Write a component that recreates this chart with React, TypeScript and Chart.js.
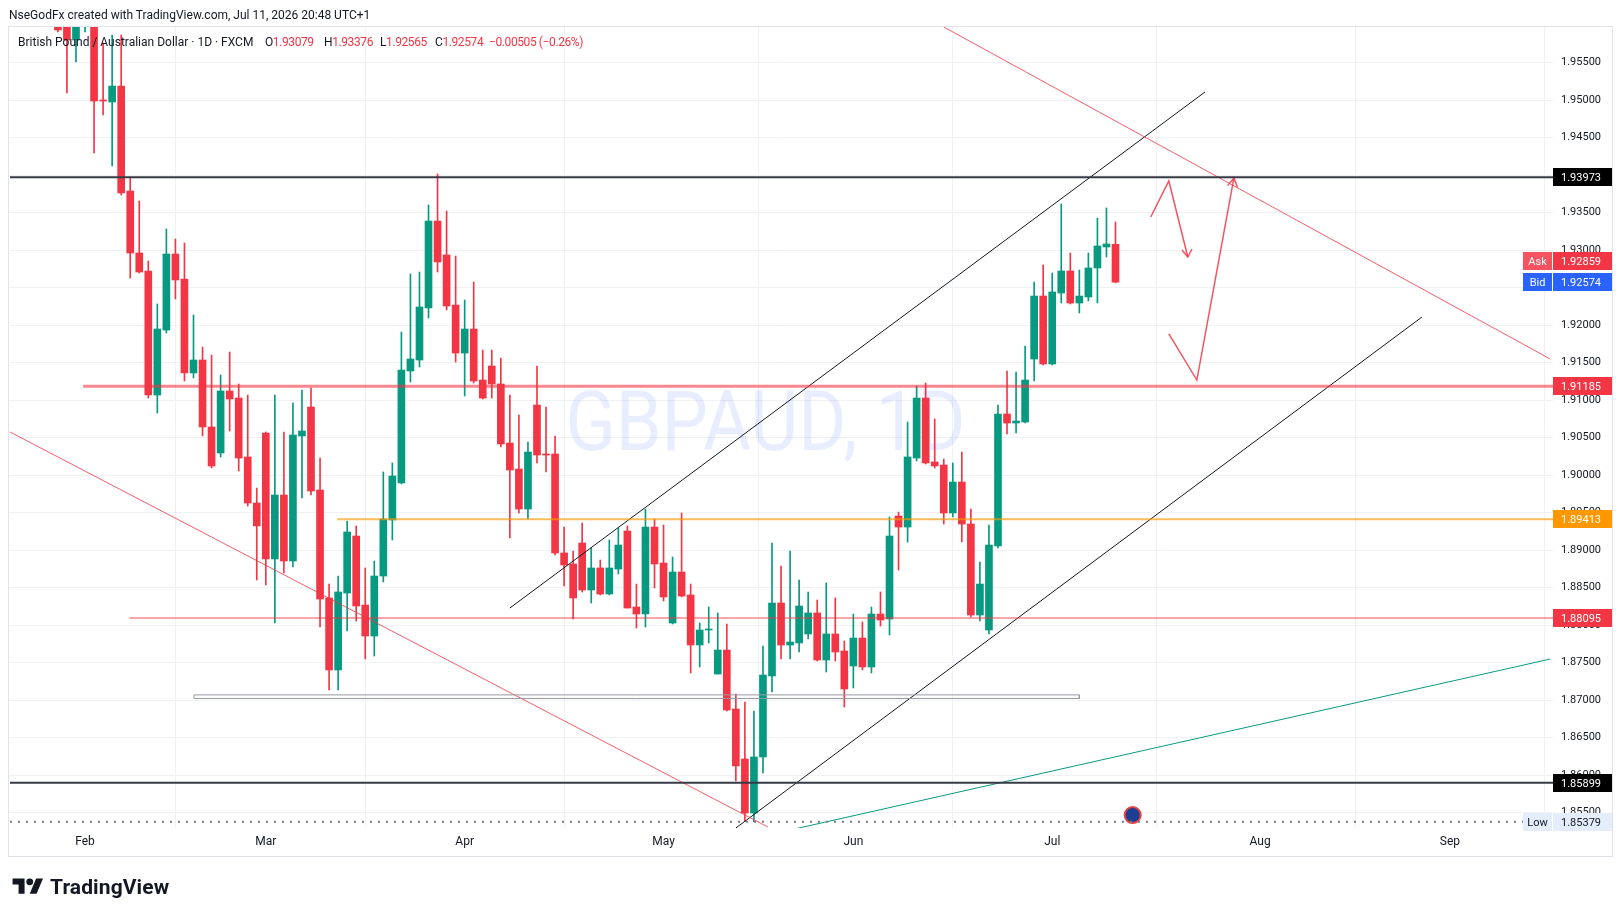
import { useEffect, useRef } from 'react';
import Chart from 'chart.js/auto';

// bar index 0 = Mon 2 Feb 2026, one bar per trading day (FXCM daily)
const firstBar = -3;

const opens = [
  1.95976, 1.9615, 1.95803, 1.9612, 1.9628, 1.95003, 1.94976, 1.95189, 1.93789, 1.92963,
  1.92723, 1.91069, 1.91936, 1.92949, 1.92616, 1.91363, 1.91536, 1.90643, 1.90296, 1.91123,
  1.91029, 1.90243, 1.89629, 1.90563, 1.88883, 1.89736, 1.88856, 1.90523, 1.90909, 1.89803,
  1.88363, 1.87403, 1.88429, 1.89189, 1.88269, 1.87856, 1.88656, 1.89403, 1.89896, 1.91389,
  1.91536, 1.92229, 1.93389, 1.92936, 1.92269, 1.91629, 1.91949, 1.91269, 1.91456, 1.91216,
  1.90429, 1.90083, 1.89549, 1.90936, 1.90283, 1.90283, 1.88963, 1.88816, 1.89096, 1.88469,
  1.88763, 1.88416, 1.88749, 1.89256, 1.88243, 1.88149, 1.89309, 1.88829, 1.88029, 1.88709,
  1.88403, 1.87736, 1.87936, 1.87349, 1.87669, 1.86883, 1.86216, 1.85496, 1.86243, 1.87323,
  1.88296, 1.87736, 1.87763, 1.87883, 1.88163, 1.87536, 1.87883, 1.87656, 1.87456, 1.87829,
  1.87443, 1.88149, 1.88083, 1.89456, 1.89309, 1.90229, 1.91029, 1.90176, 1.90136, 1.89496,
  1.89909, 1.89349, 1.88136, 1.87936, 1.89056, 1.90816, 1.90696, 1.90709, 1.91549, 1.92389,
  1.91483, 1.92429, 1.92723, 1.92296, 1.92376, 1.92763, 1.93043, 1.93079,
];
const highs = [
  1.96003, 1.9625, 1.9625, 1.964, 1.964, 1.95763, 1.95869, 1.95869, 1.93963, 1.93656,
  1.92856, 1.92283, 1.93283, 1.93149, 1.93096, 1.92136, 1.91709, 1.91603, 1.91336, 1.91643,
  1.91216, 1.91069, 1.89829, 1.90576, 1.91069, 1.90576, 1.90963, 1.91136, 1.91163, 1.90229,
  1.88549, 1.88656, 1.89389, 1.89323, 1.88763, 1.88856, 1.90043, 1.90163, 1.91909, 1.92683,
  1.92709, 1.93603, 1.94016, 1.93523, 1.92923, 1.92336, 1.92576, 1.91669, 1.91669, 1.91563,
  1.91069, 1.90803, 1.90443, 1.91456, 1.90909, 1.90523, 1.89309, 1.88989, 1.89363, 1.89029,
  1.88869, 1.89136, 1.89296, 1.89323, 1.88549, 1.89549, 1.89416, 1.89336, 1.88909, 1.89496,
  1.88549, 1.88029, 1.88243, 1.88163, 1.88016, 1.87083, 1.86976, 1.86856, 1.87723, 1.89096,
  1.88789, 1.88989, 1.88603, 1.88443, 1.88336, 1.88563, 1.88363, 1.87789, 1.88149, 1.88043,
  1.88243, 1.88443, 1.89443, 1.89509, 1.90709, 1.91189, 1.91229, 1.90749, 1.90216, 1.90163,
  1.90309, 1.89549, 1.88843, 1.89336, 1.90936, 1.91389, 1.91376, 1.91723, 1.92576, 1.92803,
  1.92696, 1.93616, 1.92963, 1.92736, 1.92963, 1.93429, 1.93563, 1.93376,
];
const lows = [
  1.95909, 1.95096, 1.95509, 1.95909, 1.94296, 1.94803, 1.94123, 1.93736, 1.92629, 1.92696,
  1.91029, 1.90829, 1.91896, 1.92349, 1.91256, 1.91296, 1.90523, 1.90096, 1.90243, 1.90589,
  1.90056, 1.89589, 1.88603, 1.88536, 1.88029, 1.88696, 1.88776, 1.89696, 1.89736, 1.87976,
  1.87136, 1.87136, 1.87923, 1.88056, 1.87549, 1.87589, 1.88576, 1.89136, 1.89883, 1.91243,
  1.91443, 1.92096, 1.92709, 1.92203, 1.91509, 1.91056, 1.91229, 1.91016, 1.91029, 1.90376,
  1.89163, 1.89496, 1.89416, 1.90163, 1.90043, 1.88936, 1.88523, 1.88083, 1.88443, 1.88296,
  1.88403, 1.88403, 1.88683, 1.88229, 1.87963, 1.87976, 1.88496, 1.88323, 1.88016, 1.88376,
  1.87363, 1.87443, 1.87763, 1.87349, 1.86856, 1.85923, 1.85379, 1.8538, 1.86029, 1.87109,
  1.87549, 1.87549, 1.87643, 1.87816, 1.87523, 1.87376, 1.87523, 1.86909, 1.87163, 1.87403,
  1.87363, 1.87989, 1.87869, 1.88736, 1.89109, 1.90189, 1.90149, 1.90096, 1.89349, 1.89443,
  1.89109, 1.88109, 1.88056, 1.87883, 1.89029, 1.90549, 1.90563, 1.90696, 1.91256, 1.91469,
  1.91469, 1.92296, 1.92283, 1.92163, 1.92323, 1.92296, 1.92909, 1.92565,
];
const closes = [
  1.95936, 1.95803, 1.9612, 1.963, 1.94989, 1.94989, 1.95189, 1.93763, 1.92963, 1.92709,
  1.91069, 1.91949, 1.92949, 1.92603, 1.91363, 1.91536, 1.90643, 1.90123, 1.91123, 1.91016,
  1.90229, 1.89629, 1.89323, 1.88883, 1.89736, 1.88856, 1.90536, 1.90589, 1.89789, 1.88349,
  1.87403, 1.88443, 1.89243, 1.88256, 1.87856, 1.88656, 1.89416, 1.89989, 1.91403, 1.91549,
  1.92243, 1.93389, 1.92843, 1.92256, 1.91629, 1.91949, 1.91256, 1.91029, 1.91216, 1.90416,
  1.90069, 1.89549, 1.90309, 1.90269, 1.90269, 1.88963, 1.88803, 1.88363, 1.88469, 1.88763,
  1.88416, 1.88763, 1.89069, 1.88229, 1.88149, 1.89309, 1.88816, 1.88376, 1.88709, 1.88389,
  1.87736, 1.87936, 1.87949, 1.87669, 1.86869, 1.86123, 1.85496, 1.86243, 1.87336, 1.88296,
  1.87736, 1.87776, 1.88256, 1.88163, 1.87536, 1.87883, 1.87643, 1.87149, 1.87829, 1.87443,
  1.88149, 1.88069, 1.89189, 1.89309, 1.90243, 1.91029, 1.90163, 1.90123, 1.89496, 1.89909,
  1.89349, 1.88136, 1.88549, 1.89069, 1.90816, 1.90696, 1.90723, 1.91269, 1.92389, 1.91483,
  1.92443, 1.92723, 1.92296, 1.92389, 1.92763, 1.93056, 1.93083, 1.92574,
];

const monthTicks = [0, 20, 42, 64, 85, 107, 130, 151];
const monthNames = ['Feb', 'Mar', 'Apr', 'May', 'Jun', 'Jul', 'Aug', 'Sep'];
const priceTicks = [
  1.855, 1.86, 1.865, 1.87, 1.875, 1.88, 1.885, 1.89, 1.895, 1.9, 1.905,
  1.91, 1.915, 1.92, 1.925, 1.93, 1.935, 1.94, 1.945, 1.95, 1.955,
];
const viewBars = [-8.3, 162.4];
const viewPrices = [1.85296, 1.95976];

// horizontal levels: price and the bar where each one starts
const levelPrices = [1.93973, 1.91185, 1.89413, 1.88095, 1.85899];
const levelStart = [-8.3, -0.2, 27.9, 4.9, -8.3];
const askPrice = 1.92859;
const bidPrice = 1.92574;
const lowPrice = 1.85379;

// drawings as [bar, price] points
const lowerRedLine = [[-8.3, 1.90576], [75.55, 1.85309]];
const upperRedLine = [[95.0, 1.95976], [162.1, 1.91549]];
const channelTop = [[47.0, 1.88229], [123.9, 1.95109]];
const channelBottom = [[72.0, 1.85296], [147.9, 1.92109]];
const tealLine = [[78.5, 1.85283], [162.1, 1.87549]];
const arrowDown = [[117.9, 1.93443], [119.9, 1.93923], [122.0, 1.92909]];
const arrowDownHead = [[121.35, 1.93003], [122.0, 1.92909], [122.46, 1.93016]];
const arrowUp = [[119.9, 1.91883], [123.0, 1.91269], [127.1, 1.93963]];
const arrowUpHead = [[126.4, 1.93861], [127.1, 1.93963], [127.5, 1.93837]];
const boxBars = [12.06, 110.0];
const boxPrices = [1.87023, 1.87071];
const eventMarker = [115.9, 1.85469];

const UP = '#089981';
const DOWN = '#f23645';
const FONT = 'Roboto, "Liberation Sans", sans-serif';

const levelStyles = [
  { color: '#363a45', width: 2, tag: '#000000' },
  { color: 'rgba(242,54,69,0.6)', width: 3, tag: '#f23645' },
  { color: 'rgba(255,152,0,0.65)', width: 2, tag: '#ff9800' },
  { color: 'rgba(242,54,69,0.6)', width: 1.5, tag: '#f23645' },
  { color: '#363a45', width: 2, tag: '#000000' },
];

const watermark = {
  id: 'watermark',
  beforeDatasetsDraw(chart: any) {
    const { ctx, chartArea } = chart;
    ctx.save();
    ctx.font = `84px ${FONT}`;
    ctx.fillStyle = 'rgba(41,98,255,0.11)';
    ctx.textAlign = 'center';
    ctx.textBaseline = 'middle';
    const text = 'GBPAUD, 1D';
    const w = ctx.measureText(text).width;
    const cx = (chartArea.left + chartArea.right) / 2 - 16;
    const cy = (chartArea.top + chartArea.bottom) / 2 + 1;
    ctx.translate(cx, cy);
    ctx.scale(400 / w, 1);
    ctx.fillText(text, 0, 0);
    ctx.restore();
  },
};

const axisTags = {
  id: 'axisTags',
  afterDraw(chart: any) {
    const { ctx, chartArea, scales } = chart;
    const ys = scales.y;
    const right = chartArea.right;
    const tag = (price: number, bg: string, fg: string, label?: string, labelBg?: string) => {
      const py = Math.round(ys.getPixelForValue(price));
      ctx.fillStyle = bg;
      ctx.fillRect(right, py - 9, 59, 18);
      ctx.fillStyle = fg;
      ctx.textAlign = 'left';
      ctx.fillText(price.toFixed(5), right + 8, py + 1);
      if (label) {
        ctx.fillStyle = labelBg;
        ctx.fillRect(right - 30, py - 9, 29, 18);
        ctx.fillStyle = fg;
        ctx.textAlign = 'center';
        ctx.fillText(label, right - 15.5, py + 1);
      }
    };
    ctx.save();
    ctx.font = `11px ${FONT}`;
    ctx.textBaseline = 'middle';
    levelPrices.forEach((p, i) => tag(p, levelStyles[i].tag, '#ffffff'));
    tag(askPrice, '#f23645', '#ffffff', 'Ask', '#f7525f');
    tag(bidPrice, '#2962ff', '#ffffff', 'Bid', '#2962ff');
    tag(lowPrice, '#e3edfc', '#131722', 'Low', '#e3edfc');
    ctx.restore();
  },
};

const seg = (pts: number[][], color: string, width: number, dash: number[] = []) => ({
  type: 'line' as const,
  data: pts.map(([x, y]) => ({ x, y })),
  borderColor: color,
  borderWidth: width,
  borderDash: dash,
  pointRadius: 0,
  fill: false,
  tension: 0,
  order: 0,
});

export default function App() {
  const canvasRef = useRef<HTMLCanvasElement | null>(null);

  useEffect(() => {
    document.body.style.margin = '0';
    if (!canvasRef.current) return;

    const colors = opens.map((o, i) => (closes[i] >= o ? UP : DOWN));
    const wicks = opens.map((_, i) => ({ x: firstBar + i, y: [lows[i], highs[i]] }));
    const bodies = opens.map((o, i) => ({ x: firstBar + i, y: [o, closes[i]] }));

    const levelSets = levelPrices.map((p, i) =>
      seg([[levelStart[i], p], [viewBars[1], p]], levelStyles[i].color, levelStyles[i].width)
    );
    const boxOutline = [
      [boxBars[0], boxPrices[1]], [boxBars[1], boxPrices[1]], [boxBars[1], boxPrices[0]],
      [boxBars[0], boxPrices[0]], [boxBars[0], boxPrices[1]],
    ];

    const chart = new Chart(canvasRef.current, {
      type: 'bar',
      data: {
        datasets: [
          {
            data: wicks as any,
            backgroundColor: colors,
            barThickness: 1,
            grouped: false,
            order: 2,
          } as any,
          {
            data: bodies as any,
            backgroundColor: colors,
            barThickness: 7,
            minBarLength: 1,
            grouped: false,
            order: 1,
          } as any,
          ...levelSets,
          seg([[viewBars[0], lowPrice], [viewBars[1], lowPrice]], '#787b86', 2, [2, 6]),
          seg(boxOutline, '#9598a1', 1),
          seg(lowerRedLine, 'rgba(242,54,69,0.8)', 1),
          seg(upperRedLine, 'rgba(242,54,69,0.8)', 1),
          seg(channelTop, '#131722', 1),
          seg(channelBottom, '#131722', 1),
          seg(tealLine, '#089981', 1),
          seg(arrowDown, 'rgba(242,54,69,0.85)', 1.5),
          seg(arrowDownHead, 'rgba(242,54,69,0.85)', 1.5),
          seg(arrowUp, 'rgba(242,54,69,0.85)', 1.5),
          seg(arrowUpHead, 'rgba(242,54,69,0.85)', 1.5),
          {
            type: 'line',
            data: [{ x: eventMarker[0], y: eventMarker[1] }],
            showLine: false,
            pointRadius: 8,
            pointBackgroundColor: '#1d3f91',
            pointBorderColor: '#e6413f',
            pointBorderWidth: 2,
            order: 0,
          } as any,
        ],
      },
      options: {
        animation: false,
        responsive: false,
        events: [],
        layout: { padding: { left: 10, top: 27, right: 10, bottom: 60 } },
        plugins: {
          legend: { display: false },
          tooltip: { enabled: false },
        },
        scales: {
          x: {
            type: 'linear',
            min: viewBars[0],
            max: viewBars[1],
            offset: false,
            grid: { color: '#f0f1f4', drawTicks: false },
            border: { display: false },
            afterBuildTicks: (s: any) => {
              s.ticks = monthTicks.map((v) => ({ value: v }));
            },
            afterFit: (s: any) => {
              s.height = 28;
            },
            ticks: {
              autoSkip: false,
              maxRotation: 0,
              padding: 7,
              color: '#131722',
              font: { size: 12, family: FONT },
              callback: (v: any) => monthNames[monthTicks.indexOf(Number(v))] ?? '',
            },
          },
          y: {
            type: 'linear',
            position: 'right',
            min: viewPrices[0],
            max: viewPrices[1],
            grid: { color: '#f0f1f4', drawTicks: false },
            border: { display: false },
            afterBuildTicks: (s: any) => {
              s.ticks = priceTicks.map((v) => ({ value: v }));
            },
            afterFit: (s: any) => {
              s.width = 60;
            },
            ticks: {
              padding: 8,
              color: '#131722',
              font: { size: 11, family: FONT },
              callback: (v: any) => Number(v).toFixed(5),
            },
          },
        },
      } as any,
      plugins: [watermark, axisTags],
    });

    return () => {
      chart.destroy();
    };
  }, []);

  const red = { color: '#f23645' };
  const legendItem = (left: number) => ({
    position: 'absolute' as const,
    left,
    top: 35,
    fontSize: 12,
    lineHeight: '15px',
    whiteSpace: 'nowrap' as const,
  });
  const ohlcItem = (left: number) => ({ ...legendItem(left), letterSpacing: -0.4 });

  return (
    <div
      style={{
        position: 'absolute',
        left: 0,
        top: 0,
        width: 1623,
        height: 916,
        background: '#ffffff',
        overflow: 'hidden',
        fontFamily: FONT,
        color: '#131722',
      }}
    >
      <canvas ref={canvasRef} width={1623} height={916} style={{ position: 'absolute', left: 0, top: 0 }} />
      <div style={{ position: 'absolute', left: 8, top: 26, width: 1605, height: 831, border: '1px solid #e0e3eb', boxSizing: 'border-box' }} />
      <div style={{ position: 'absolute', left: 9, top: 8, fontSize: 12, lineHeight: '15px' }}>
        NseGodFx created with TradingView.com, Jul 11, 2026 20:48 UTC+1
      </div>
      <div style={legendItem(18)}>British Pound / Australian Dollar · 1D · FXCM</div>
      <div style={ohlcItem(265)}>
        O<span style={red}>1.93079</span>
      </div>
      <div style={ohlcItem(324)}>
        H<span style={red}>1.93376</span>
      </div>
      <div style={ohlcItem(380)}>
        L<span style={red}>1.92565</span>
      </div>
      <div style={ohlcItem(435)}>
        C<span style={red}>1.92574</span>
      </div>
      <div style={{ ...ohlcItem(489), ...red }}>−0.00505 (−0.26%)</div>
      <div style={{ position: 'absolute', left: 12, top: 875, display: 'flex', alignItems: 'center', gap: 6 }}>
        <svg width="32" height="24" viewBox="0 0 36 28">
          <path d="M14 22H7V11H0V4h14v18z" fill="#131722" />
          <circle cx="20" cy="8" r="4" fill="#131722" />
          <path d="M28 22h-8l7.5-18h8L28 22z" fill="#131722" />
        </svg>
        <span style={{ fontSize: 21, fontWeight: 700, letterSpacing: 0.1 }}>TradingView</span>
      </div>
    </div>
  );
}
